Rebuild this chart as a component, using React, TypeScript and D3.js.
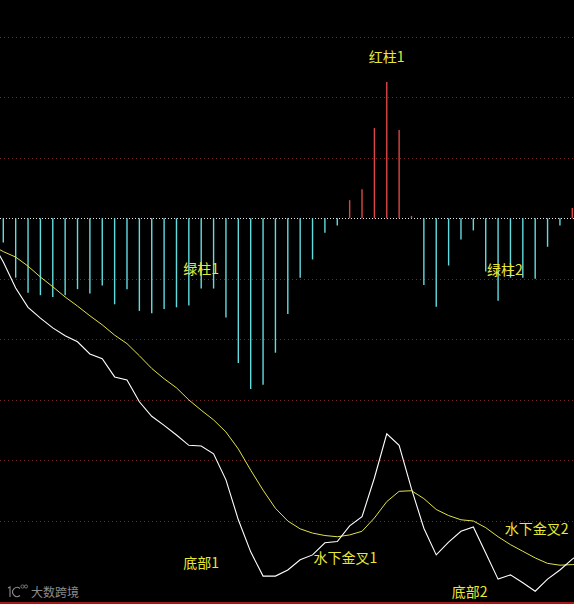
import React from "react";
import * as d3 from "d3";

// MACD panel: histogram (red above zero, cyan below), DIF (white) and DEA (yellow)

const W = 574;
const H = 604;

// Histogram values, one per bar (index 0..46)
const macdBars: number[] = [
  -0.4, -0.98, -1.23, -1.27, -1.3, -1.27, -1.17, -1.24, -1.11, -1.42,
  -1.17, -1.53, -1.57, -1.5, -1.47, -1.44, -1.16, -1.16, -1.64, -2.39,
  -2.82, -2.75, -2.22, -1.58, -0.98, -0.68, -0.24, -0.12, 0.3, 0.48,
  1.49, 2.25, 1.46, 0.04, -1.1, -1.46, -0.78, -0.35, -0.2, -0.88,
  -1.36, -0.98, -0.98, -1.0, -0.47, -0.12, 0.17,
];

// DIF / DEA, index -1..47 (the ends run past the panel edges)
const difLine: number[] = [
  -0.36, -0.72, -1.15, -1.47, -1.65, -1.81, -1.94, -2.04, -2.24, -2.32,
  -2.62, -2.67, -3.03, -3.27, -3.42, -3.58, -3.75, -3.76, -3.89, -4.32,
  -4.98, -5.51, -5.91, -5.91, -5.81, -5.64, -5.56, -5.36, -5.34, -5.08,
  -4.93, -4.29, -3.56, -3.75, -4.47, -5.12, -5.56, -5.35, -5.17, -5.1,
  -5.53, -5.96, -5.89, -6.02, -6.16, -5.96, -5.81, -5.63, -5.48,
];
const deaLine: number[] = [
  -0.44, -0.55, -0.64, -0.79, -0.97, -1.13, -1.3, -1.45, -1.61, -1.76,
  -1.93, -2.07, -2.27, -2.48, -2.65, -2.8, -3.0, -3.17, -3.33, -3.53,
  -3.81, -4.16, -4.49, -4.79, -5.0, -5.13, -5.2, -5.24, -5.26, -5.23,
  -5.17, -4.95, -4.68, -4.51, -4.5, -4.63, -4.81, -4.91, -4.98, -5.0,
  -5.11, -5.26, -5.39, -5.5, -5.61, -5.7, -5.73, -5.72, -5.71,
];
const lineStart = -1;

// Horizontal reference levels
const gridLevels: number[] = [-5, -4, -3, -2, -1, 0, 1, 2, 3];

// Annotation labels with the bar index / value they sit at
const noteLabels: string[] = ["红柱1", "绿柱1", "绿柱2", "底部1", "水下金叉1", "水下金叉2", "底部2"];
const noteIndex: number[] = [31.0, 16.0, 40.55, 16.0, 27.65, 43.12, 37.7];
const noteValue: number[] = [2.58, -0.92, -0.93, -5.78, -5.7, -5.22, -6.26];

const x = d3.scaleLinear().domain([0, macdBars.length - 1]).range([3.3, 572.3]);
const y = d3.scaleLinear().domain([-5, 3]).range([521, 36.7]);

const lineGen = d3
  .line<number>()
  .x((_, i) => x(i + lineStart))
  .y((d) => y(d));

const CYAN = "#62dcdf";
const RED = "#dc4646";
const YELLOW = "#e8e836";
const LINE_YELLOW = "#e2e24a";

export default function App() {
  return (
    <svg
      width={W}
      height={H}
      style={{ position: "absolute", left: 0, top: 0, display: "block" }}
    >
      <rect x={0} y={0} width={W} height={H} fill="#000" />

      {gridLevels.map((g) => (
        <line
          key={g}
          x1={0}
          x2={W}
          y1={Math.round(y(g)) + 0.5}
          y2={Math.round(y(g)) + 0.5}
          stroke={g === 0 ? "#e8e8e8" : "#7a2626"}
          strokeWidth={1}
          strokeDasharray={g === 0 ? "1,2" : "1,3"}
        />
      ))}

      {macdBars.map((v, i) => (
        <line
          key={i}
          x1={x(i)}
          x2={x(i)}
          y1={y(0)}
          y2={y(v)}
          stroke={v >= 0 ? RED : CYAN}
          strokeWidth={1.4}
        />
      ))}

      <path d={lineGen(deaLine) || ""} fill="none" stroke={LINE_YELLOW} strokeWidth={1} />
      <path d={lineGen(difLine) || ""} fill="none" stroke="#ffffff" strokeWidth={1.1} />

      {noteLabels.map((t, i) => (
        <text
          key={t}
          x={x(noteIndex[i])}
          y={y(noteValue[i])}
          textAnchor="middle"
          fill={YELLOW}
          fontSize={14}
          fontFamily="'Noto Sans CJK SC', sans-serif"
        >
          {t}
        </text>
      ))}

      {/* watermark */}
      <g fill="none" stroke="#8c8c8c" strokeWidth={1.1}>
        <path d="M8,588 L10,587 L10,597" />
        <path d="M20,588.5 A4.5,4.5 0 1 0 20,595.5" />
        <circle cx={22.5} cy={586.5} r={1.6} strokeWidth={0.8} />
        <circle cx={26} cy={586.5} r={1.6} strokeWidth={0.8} />
      </g>
      <text
        x={31}
        y={597}
        fill="#8c8c8c"
        fontSize={12}
        fontFamily="'Noto Sans CJK SC', sans-serif"
      >
        大数跨境
      </text>

      <line x1={0} x2={W} y1={603} y2={603} stroke="#a01818" strokeWidth={2} />
    </svg>
  );
}
